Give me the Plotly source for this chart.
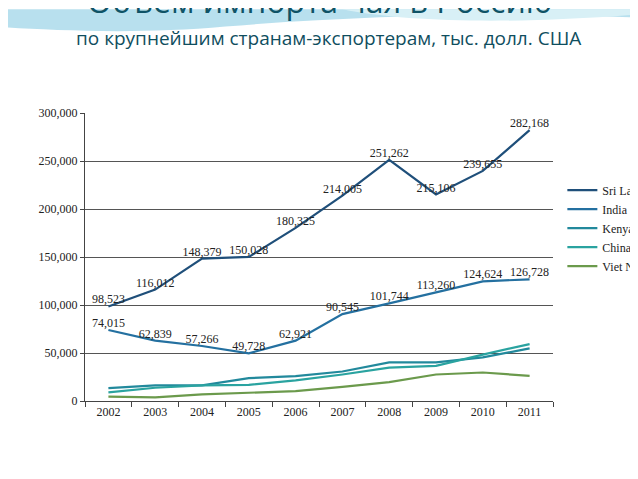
import plotly.graph_objects as go

years = ["2002", "2003", "2004", "2005", "2006", "2007", "2008", "2009", "2010", "2011"]
sri_lanka = [98523, 116012, 148379, 150028, 180325, 214005, 251262, 215106, 239655, 282168]
india = [74015, 62839, 57266, 49728, 62921, 90545, 101744, 113260, 124624, 126728]
kenya = [13400, 16200, 16200, 23800, 25900, 30700, 40300, 40300, 45500, 54800]
china = [9000, 13800, 16200, 16900, 21400, 27600, 34800, 36600, 48300, 59300]
viet_nam = [4500, 3800, 6900, 8600, 10300, 14800, 19700, 27600, 29700, 26200]

series = [
    ("Sri Lanka", sri_lanka, "#1f4f7a", True),
    ("India", india, "#2470a0", True),
    ("Kenya", kenya, "#22899c", False),
    ("China", china, "#2aa3a0", False),
    ("Viet Nam", viet_nam, "#6b9a4c", False),
]

serif = "Liberation Serif, DejaVu Serif, serif"
sans = "Open Sans, Noto Sans, sans-serif"

fig = go.Figure()
for name, vals, col, lab in series:
    fig.add_trace(go.Scatter(
        x=years, y=vals, name=name,
        mode="lines+text" if lab else "lines",
        text=[f"{v:,}" for v in vals] if lab else None,
        textposition="top center",
        textfont=dict(family=serif, size=12, color="#222"),
        line=dict(color=col, width=2.2),
    ))

fig.update_layout(
    width=638, height=479,
    paper_bgcolor="white", plot_bgcolor="rgba(0,0,0,0)",
    margin=dict(l=77, r=93, t=105, b=86, autoexpand=False),
    showlegend=True,
    legend=dict(x=1.02, y=0.6, yanchor="middle", font=dict(family=serif, size=12, color="#222"),
                bgcolor="rgba(0,0,0,0)"),
    annotations=[
        dict(text="Объем импорта чая в Россию", xref="paper", yref="paper", x=0.5, y=1.39,
             xanchor="center", yanchor="middle", showarrow=False,
             font=dict(family=sans, size=32, color="#0f5366")),
        dict(text="по крупнейшим странам-экспортерам, тыс. долл. США", xref="paper", yref="paper",
             x=0.52, y=1.26, xanchor="center", yanchor="middle", showarrow=False,
             font=dict(family=sans, size=19, color="#0f4e5e")),
    ],
    shapes=[
        dict(type="path", xref="paper", yref="paper", layer="below",
             path="M -0.2 1.36 L 1.2 1.36 L 1.2 1.33 C 0.9 1.35 0.6 1.34 0.3 1.30 C 0.1 1.27 -0.1 1.29 -0.2 1.30 Z",
             fillcolor="#a6d8ea", line=dict(width=0), opacity=0.8),
        dict(type="path", xref="paper", yref="paper", layer="below",
             path="M 0.55 1.36 C 0.7 1.31 0.95 1.31 1.2 1.345 L 1.2 1.36 Z",
             fillcolor="#d8f0f6", line=dict(width=0)),
    ],
)
fig.update_xaxes(type="category", range=[-0.5, 9.5], tickson="boundaries", ticks="outside",
                 ticklen=5, tickcolor="#444", showline=True, linecolor="#444", showgrid=False,
                 tickfont=dict(family=serif, size=12, color="#222"))
fig.update_yaxes(range=[0, 300000], dtick=50000, tickformat=",", showgrid=True, gridcolor="#555",
                 gridwidth=1, zeroline=False, showline=True, linecolor="#444", ticks="outside",
                 ticklen=4, tickcolor="#444", tickfont=dict(family=serif, size=12, color="#222"))

fig.write_html("out.html")
